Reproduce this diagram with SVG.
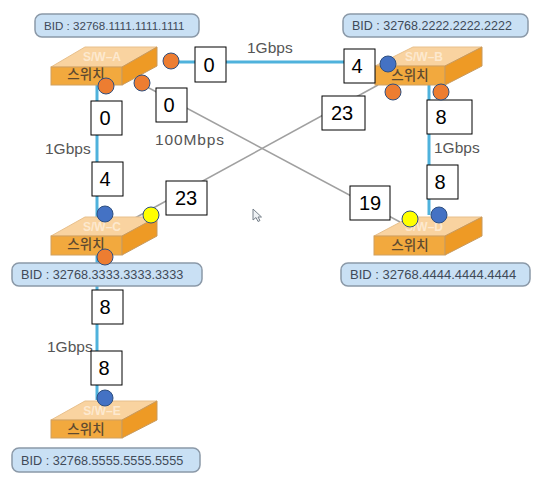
<svg xmlns="http://www.w3.org/2000/svg" width="539" height="489" viewBox="0 0 539 489">
<style>
.top{fill:#f9d3a0;stroke:#e8c08c;stroke-width:1}
.front{fill:#f2a93e;stroke:#d0a060;stroke-width:1}
.side{fill:#ee9a25;stroke:#c89a5e;stroke-width:1}
.sw{font:500 13.500px "Noto Sans CJK KR","Liberation Sans",sans-serif;fill:#5e4a30;text-anchor:middle}
.nm{font:bold 12px "Liberation Sans",sans-serif;fill:#fde9cf;text-anchor:middle}
.bid{fill:#c9e0f4;stroke:#8b99a8;stroke-width:1.5}
.bt{font-family:"Liberation Sans",sans-serif;fill:#3f4a58}
.sp{font:15.500px "Liberation Sans",sans-serif;fill:#555}
.box{fill:#fff;stroke:#000;stroke-width:1}
.n{font:20px "Liberation Sans",sans-serif;fill:#000;text-anchor:middle}
.o{fill:#ed7d31;stroke:#2f4f7f;stroke-width:1}
.b{fill:#4472c4;stroke:#2f4f7f;stroke-width:1}
.y{fill:#ffff00;stroke:#2f4f7f;stroke-width:1}
.fast{stroke:#4fb2dc;stroke-width:3;fill:none}
.slow{stroke:#a0a0a0;stroke-width:1.5;fill:none}
</style>
<rect width="539" height="489" fill="#fff"/>
<g id="connectors">
<path class="fast" d="M165 62H375"/>
<path class="fast" d="M97 85V220"/>
<path class="fast" d="M97 255V400"/>
<path class="fast" d="M429 85V215"/>
<path class="slow" d="M134 80L400 222"/>
<path class="slow" d="M378 85L135 218"/>
</g>
<g id="sw-a">
<polygon class="top" points="51,67 85,47 157,47 122,67"/><rect class="front" x="51" y="67" width="71" height="18"/><polygon class="side" points="122,67 157,47 157,66 122,85"/>
<text class="nm" x="102" y="61">S/W–A</text><text class="sw" x="86" y="79">스위치</text>
<rect class="bid" x="35" y="14" width="164" height="23" rx="7"/><text class="bt" x="44" y="30" font-size="11.600">BID : 32768.1111.1111.1111</text>
</g>
<g id="sw-b">
<polygon class="top" points="375,66 413,47 482,47 445,66"/><rect class="front" x="375" y="66" width="70" height="19"/><polygon class="side" points="445,66 482,47 482,66 445,85"/>
<text class="nm" x="424" y="61">S/W–B</text><text class="sw" x="410" y="80">스위치</text>
<rect class="bid" x="343" y="14" width="185" height="23" rx="7"/><text class="bt" x="352" y="30" font-size="12.500">BID : 32768.2222.2222.2222</text>
</g>
<g id="sw-c">
<polygon class="top" points="51,236 85,217 157,217 122,236"/><rect class="front" x="51" y="236" width="71" height="19"/><polygon class="side" points="122,236 157,217 157,236 122,255"/>
<text class="nm" x="102" y="231">S/W–C</text><text class="sw" x="86" y="249">스위치</text>
<rect class="bid" x="12" y="263" width="190" height="23" rx="7"/><text class="bt" x="21" y="279" font-size="12.700">BID : 32768.3333.3333.3333</text>
</g>
<g id="sw-d">
<polygon class="top" points="374,236 410,217 482,217 445,236"/><rect class="front" x="374" y="236" width="71" height="19"/><polygon class="side" points="445,236 482,217 482,236 445,255"/>
<text class="nm" x="424" y="231">S/W–D</text><text class="sw" x="410" y="250">스위치</text>
<rect class="bid" x="341" y="263" width="189" height="23" rx="7"/><text class="bt" x="350" y="279" font-size="13">BID : 32768.4444.4444.4444</text>
</g>
<g id="sw-e">
<polygon class="top" points="51,420 85,401 157,401 122,420"/><rect class="front" x="51" y="420" width="71" height="18"/><polygon class="side" points="122,420 157,401 157,420 122,438"/>
<text class="nm" x="102" y="415">S/W–E</text><text class="sw" x="86" y="434">스위치</text>
<rect class="bid" x="12" y="448" width="188" height="24" rx="7"/><text class="bt" x="21" y="465" font-size="12.700">BID : 32768.5555.5555.5555</text>
</g>
<g id="speeds">
<text class="sp" x="247" y="53">1Gbps</text>
<text class="sp" x="155" y="145" textLength="69">100Mbps</text>
<text class="sp" x="45" y="154">1Gbps</text>
<text class="sp" x="434" y="153">1Gbps</text>
<text class="sp" x="47" y="352">1Gbps</text>
</g>
<g id="costs">
<rect class="box" x="195" y="47" width="31" height="35"/><text class="n" x="209" y="72">0</text>
<rect class="box" x="156" y="88" width="31" height="34"/><text class="n" x="169" y="112">0</text>
<rect class="box" x="91" y="101" width="31" height="34"/><text class="n" x="105" y="125">0</text>
<rect class="box" x="344" y="49" width="31" height="34"/><text class="n" x="357" y="73">4</text>
<rect class="box" x="322" y="96" width="43" height="34"/><text class="n" x="342" y="120">23</text>
<rect class="box" x="427" y="100" width="45" height="34"/><text class="n" x="441" y="124">8</text>
<rect class="box" x="92" y="162" width="31" height="34"/><text class="n" x="105" y="186">4</text>
<rect class="box" x="166" y="181" width="41" height="34"/><text class="n" x="186" y="205">23</text>
<rect class="box" x="427" y="165" width="31" height="34"/><text class="n" x="440" y="189">8</text>
<rect class="box" x="350" y="186" width="40" height="34"/><text class="n" x="370" y="210">19</text>
<rect class="box" x="92" y="290" width="31" height="34"/><text class="n" x="105" y="314">8</text>
<rect class="box" x="91" y="351" width="31" height="34"/><text class="n" x="104" y="375">8</text>
</g>
<g id="ports">
<circle class="o" cx="171" cy="61" r="8"/><circle class="o" cx="106" cy="86" r="8"/><circle class="o" cx="142" cy="83" r="8"/>
<circle class="b" cx="388" cy="64" r="8"/><circle class="o" cx="393" cy="92" r="8"/><circle class="o" cx="441" cy="92" r="8"/>
<circle class="b" cx="105" cy="214" r="8"/><circle class="y" cx="151" cy="215" r="8"/><circle class="o" cx="105" cy="257" r="8"/>
<circle class="y" cx="410" cy="219" r="8"/><circle class="b" cx="439" cy="215" r="8"/>
<circle class="b" cx="105" cy="398" r="8"/>
</g>
<path d="M253 209V220L256 217.500L258 221.500L260 220.500L258 217H261.500Z" fill="#eef1f4" stroke="#77808a" stroke-width="1"/>
</svg>
